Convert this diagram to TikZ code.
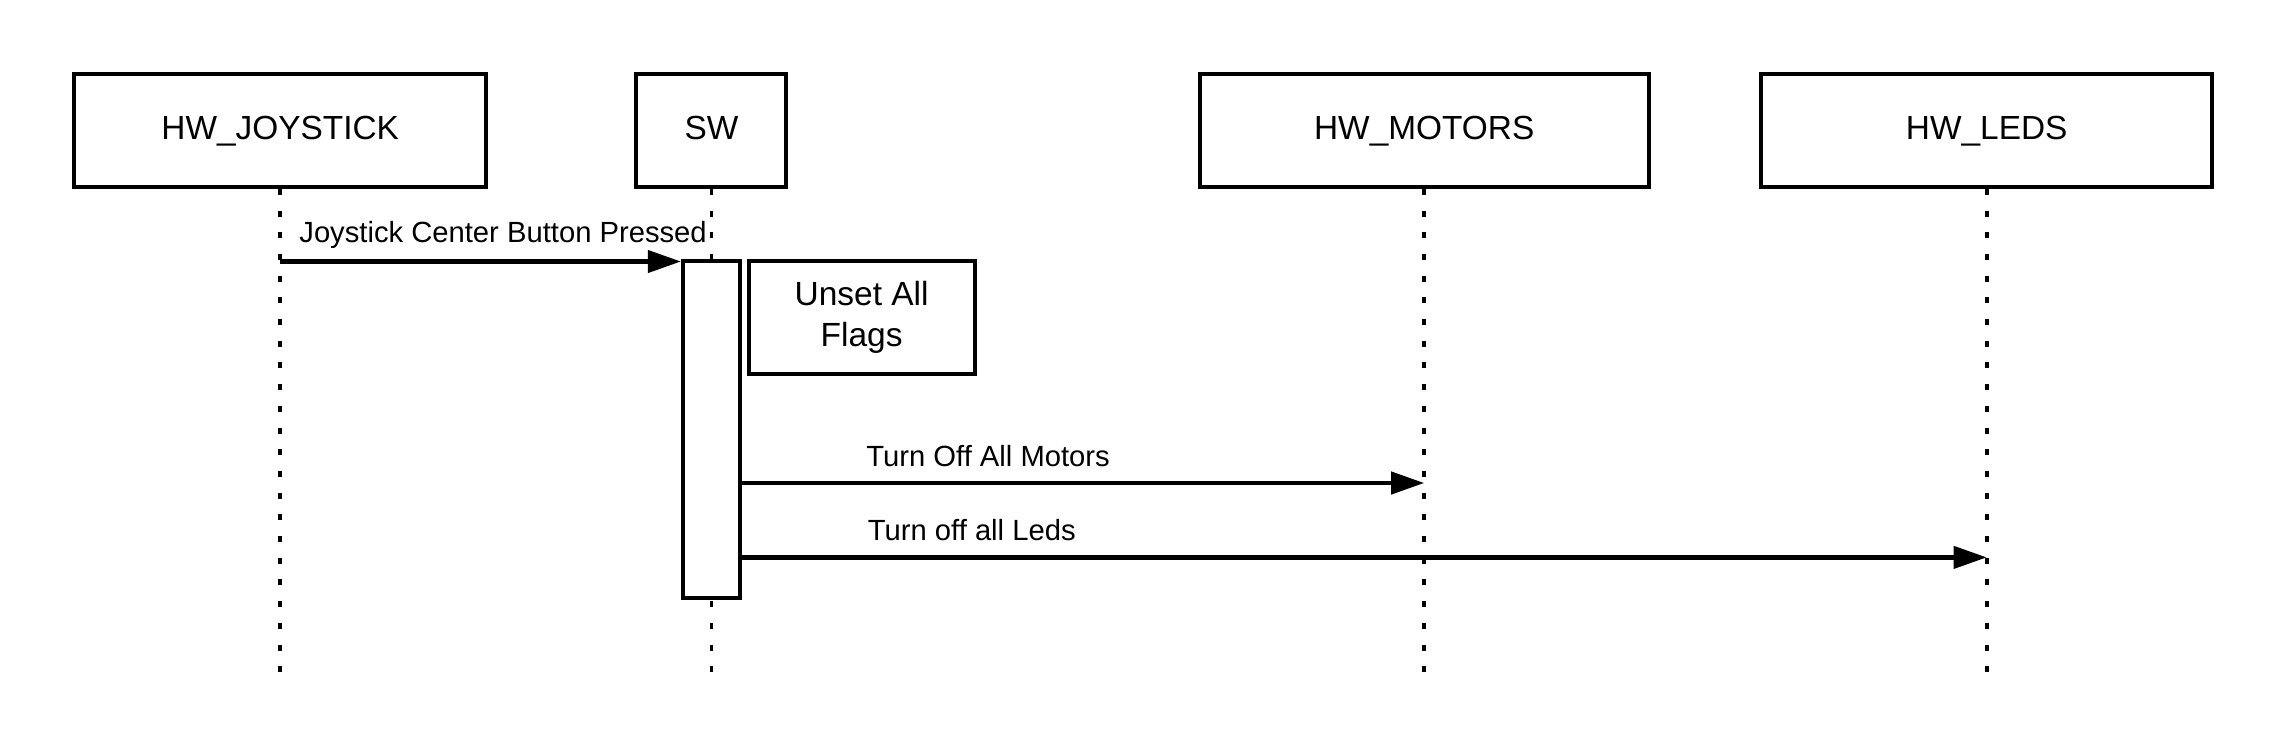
\documentclass[tikz,border=0pt]{standalone}
\usepackage{fontspec}
\setmainfont{Liberation Sans}
\usetikzlibrary{arrows.meta}
\begin{document}
\begin{tikzpicture}[x=0.5pt,y=-0.5pt,
  lane/.style={draw,line width=2pt,inner sep=0pt,minimum height=56.2pt,text height=12pt,text depth=3.5pt,font=\fontsize{16.7}{20}\selectfont},
  life/.style={line width=1.8pt,dash pattern=on 3pt off 7.85pt},
  msg/.style={line width=2.1pt,-{Triangle[length=16.5pt,width=11pt]}},
  lbl/.style={inner sep=0pt,anchor=west,font=\fontsize{14.6}{17}\selectfont},
  box/.style={draw,line width=2pt,inner sep=0pt}]
\useasboundingbox (0,0) rectangle (2288,750);
% lifeline heads
\node[lane,minimum width=205.75pt] (joy) at (280.2,130.6) {HW\_JOYSTICK};
\node[lane,minimum width=75pt] (sw) at (711.4,130.6) {SW};
\node[lane,minimum width=224.7pt] (mot) at (1424.2,130.6) {HW\_MOTORS};
\node[lane,minimum width=225.4pt] (led) at (1986.7,130.6) {HW\_LEDS};
% lifeline ends
\coordinate (joyend) at (280.2,674);
\coordinate (swend) at (711.4,674);
\coordinate (motend) at (1424.2,674);
\coordinate (ledend) at (1986.7,674);
\draw[life] (joy.south) -- (joyend);
\draw[life] (sw.south) -- (swend);
\draw[life] (mot.south) -- (motend);
\draw[life] (led.south) -- (ledend);
% activation
\node[box,fill=white,minimum width=28.5pt,minimum height=168.5pt] (act) at (711.4,429.7) {};
% note
\node[box,minimum width=113pt,minimum height=56.2pt,align=center,
  font=\fontsize{16.75}{20.4}\selectfont] (note) at (861.6,317.4) {Unset All\\Flags};
% messages
\coordinate (m1s) at (280.2,261.5);
\draw[msg] (m1s) -- (m1s -| act.west);
\node[lbl] (l1) at (299,235) {Joystick Center Button Pressed};
\coordinate (m2s) at (740,483);
\coordinate (m2e) at (1424.2,483);
\draw[msg] (m2s) -- (m2e);
\node[lbl] (l2) at (866,456) {Turn Off All Motors};
\coordinate (m3s) at (740,557.4);
\coordinate (m3e) at (1986.7,557.4);
\draw[msg] (m3s) -- (m3e);
\node[lbl] (l3) at (867.5,530.5) {Turn off all Leds};
\end{tikzpicture}
\end{document}
